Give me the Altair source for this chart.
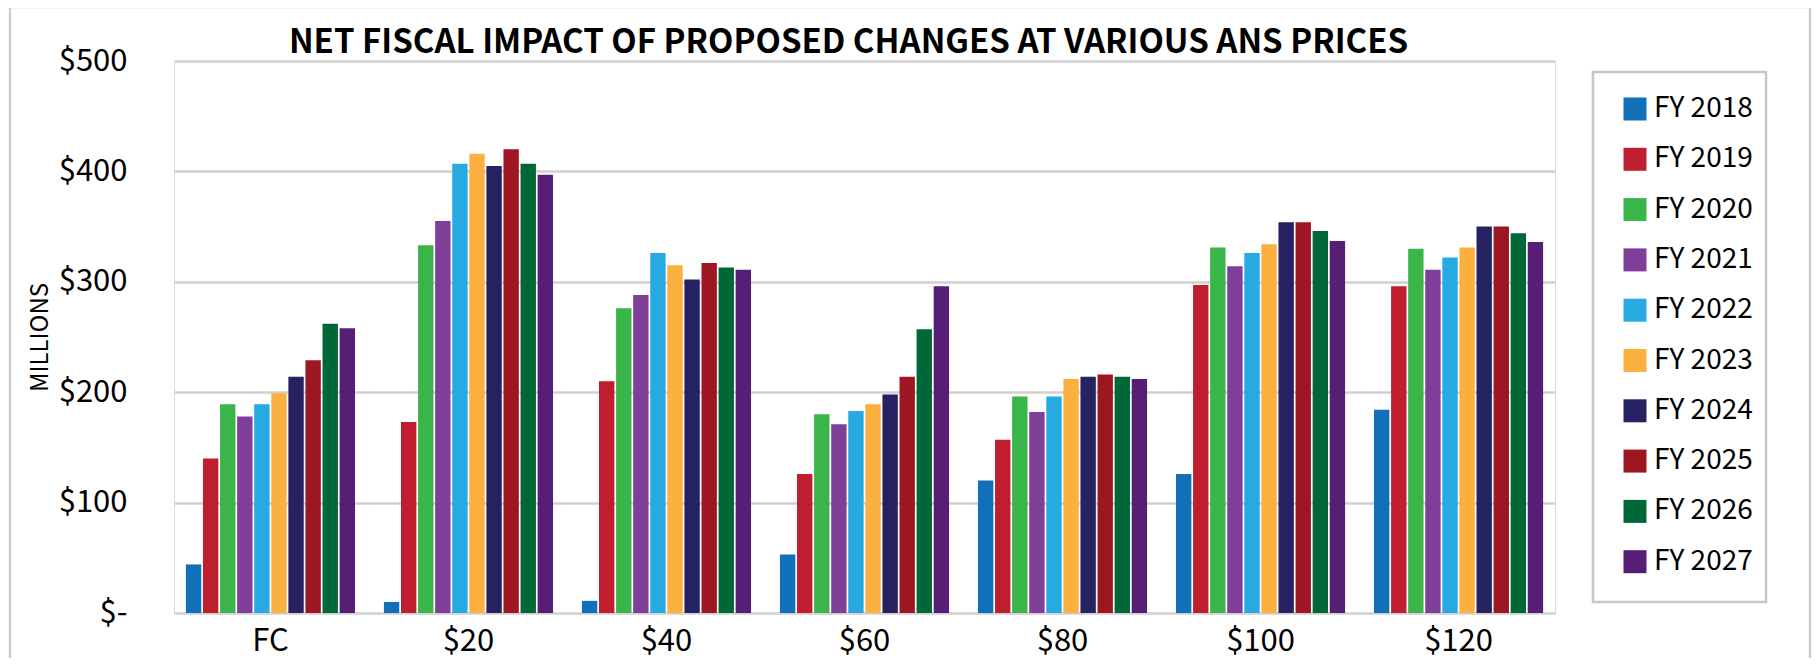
import altair as alt
import pandas as pd

prices = ["FC", "$20", "$40", "$60", "$80", "$100", "$120"]
years = ["FY 2018", "FY 2019", "FY 2020", "FY 2021", "FY 2022",
         "FY 2023", "FY 2024", "FY 2025", "FY 2026", "FY 2027"]
colors = ["#1070BA", "#BE1E2D", "#39B54A", "#7F3F98", "#27AAE1",
          "#FBB040", "#262262", "#9E1622", "#006838", "#571E76"]

val_fc = [44, 140, 189, 178, 189, 199, 214, 229, 262, 258]
val_20 = [10, 173, 333, 355, 407, 416, 405, 420, 407, 397]
val_40 = [11, 210, 276, 288, 326, 315, 302, 317, 313, 311]
val_60 = [53, 126, 180, 171, 183, 189, 198, 214, 257, 296]
val_80 = [120, 157, 196, 182, 196, 212, 214, 216, 214, 212]
val_100 = [126, 297, 331, 314, 326, 334, 354, 354, 346, 337]
val_120 = [184, 296, 330, 311, 322, 331, 350, 350, 344, 336]

series = [val_fc, val_20, val_40, val_60, val_80, val_100, val_120]
y_ticks = [0, 100, 200, 300, 400, 500]

rows = []
for p, vals in zip(prices, series):
    for yr, v in zip(years, vals):
        rows.append({"price": p, "year": yr, "value": v})
df = pd.DataFrame(rows)

FONT = "Noto Sans CJK JP, Liberation Sans, sans-serif"
GRID = "#d0d0d0"
FRAME = "#c8c8c8"

bars = alt.Chart(df).mark_bar().encode(
    x=alt.X(
        "price:N", sort=prices,
        scale=alt.Scale(paddingInner=0.146, paddingOuter=0.06),
        axis=alt.Axis(title=None, labelAngle=0, domain=False, ticks=False, tickSize=0,
                      labelPadding=37, labelBaseline="alphabetic", labelFont=FONT,
                      labelFontSize=31, labelColor="black", grid=False),
    ),
    xOffset=alt.XOffset("year:N", sort=years, scale=alt.Scale(paddingInner=0.1)),
    y=alt.Y(
        "value:Q",
        scale=alt.Scale(domain=[0, 500], nice=False),
        axis=alt.Axis(values=y_ticks,
                      labelExpr="datum.value == 0 ? '$-' : '$' + datum.value",
                      domain=False, ticks=False, tickSize=0, labelPadding=47,
                      labelFont=FONT, labelFontSize=31, labelColor="black",
                      grid=True, gridColor=GRID, gridWidth=2.5,
                      title="MILLIONS", titleFont=FONT, titleFontSize=24,
                      titleFontWeight="normal", titleColor="black",
                      titleX=-134, titleY=276, titleAngle=270,
                      titleAlign="center", titleBaseline="middle"),
    ),
    color=alt.Color(
        "year:N", sort=years,
        scale=alt.Scale(domain=years, range=colors),
        legend=alt.Legend(title=None, orient="none", legendX=1447, legendY=34,
                          symbolType="square", symbolSize=529, symbolStrokeWidth=0,
                          labelFont=FONT, labelFontSize=28, labelColor="black",
                          labelOffset=5, rowPadding=22.3, padding=0),
    ),
)

# decorative frames: outer chart border and legend box
outer_frame = alt.Chart(pd.DataFrame({"b": [0]})).mark_rect(
    fill="transparent", stroke="#cfcfcf", strokeWidth=2.5
).encode(
    x=alt.value(-164), x2=alt.value(1636), y=alt.value(-54), y2=alt.value(700)
)
legend_frame = alt.Chart(pd.DataFrame({"b": [0]})).mark_rect(
    fill="transparent", stroke=FRAME, strokeWidth=2.5
).encode(
    x=alt.value(1419), x2=alt.value(1592), y=alt.value(11), y2=alt.value(541)
)

chart = alt.layer(outer_frame, legend_frame, bars).properties(
    width=1381,
    height=552,
    padding={"left": 166, "top": 53, "right": 257, "bottom": 45},
    autosize=alt.AutoSizeParams(type="none"),
    title=alt.TitleParams(
        text="NET FISCAL IMPACT OF PROPOSED CHANGES AT VARIOUS ANS PRICES",
        font=FONT, fontSize=33, fontWeight="bold", color="black",
        anchor="middle", frame="group", dx=-16, offset=-80, baseline="alphabetic",
    ),
).configure_view(stroke="transparent").configure(background="white")

chart.save("out.html", embed_options={"renderer": "svg", "actions": False})
